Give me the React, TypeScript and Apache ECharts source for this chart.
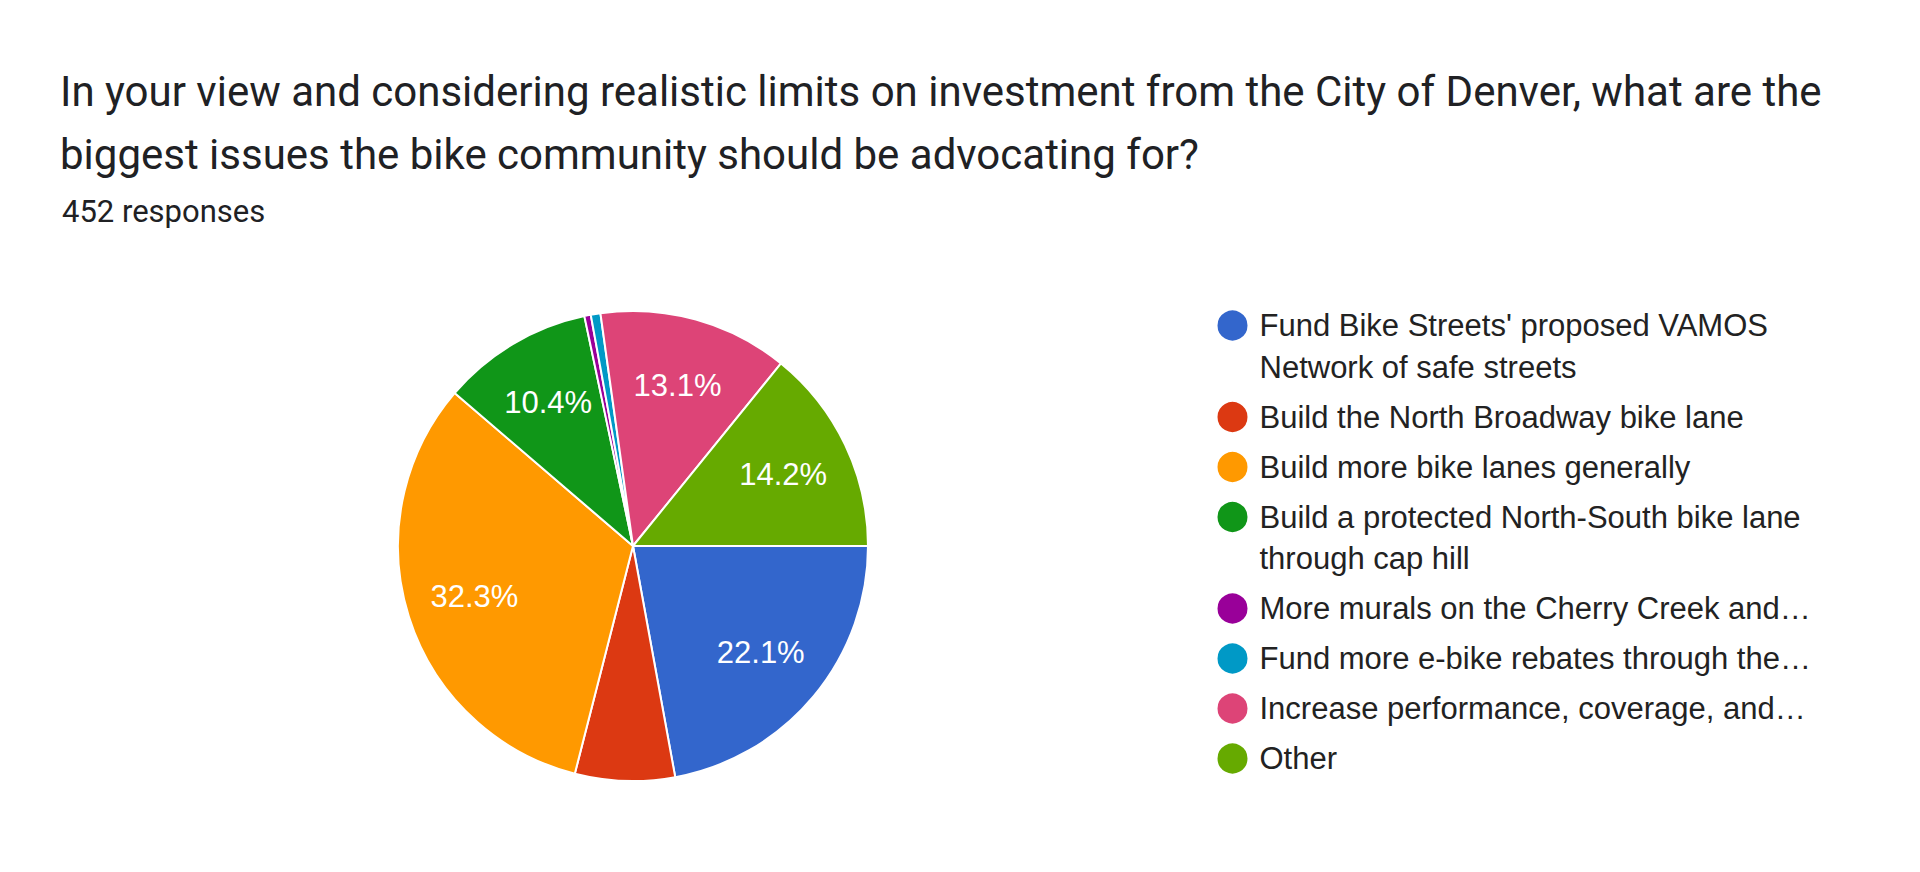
import React, { useEffect, useRef } from "react";
import * as echarts from "echarts";

const titleLines = [
  "In your view and considering realistic limits on investment from the City of Denver, what are the",
  "biggest issues the bike community should be advocating for?",
];
const responsesLabel = "452 responses";

const categories = [
  "Fund Bike Streets' proposed VAMOS Network of safe streets",
  "Build the North Broadway bike lane",
  "Build more bike lanes generally",
  "Build a protected North-South bike lane through cap hill",
  "More murals on the Cherry Creek and…",
  "Fund more e-bike rebates through the…",
  "Increase performance, coverage, and…",
  "Other",
];

const legendLines = [
  ["Fund Bike Streets' proposed VAMOS", "Network of safe streets"],
  ["Build the North Broadway bike lane"],
  ["Build more bike lanes generally"],
  ["Build a protected North-South bike lane", "through cap hill"],
  ["More murals on the Cherry Creek and…"],
  ["Fund more e-bike rebates through the…"],
  ["Increase performance, coverage, and…"],
  ["Other"],
];

const counts = [100, 31, 146, 47, 2, 3, 59, 64];

const colors = ["#3366cc", "#dc3912", "#ff9900", "#109618", "#990099", "#0099c6", "#dd4477", "#66aa00"];

const LABEL_MIN_PERCENT = 10;

export default function App() {
  const ref = useRef<HTMLDivElement>(null);

  useEffect(() => {
    document.body.style.margin = "0";
    document.body.style.overflow = "hidden";
    if (!ref.current) return;
    const chart = echarts.init(ref.current, undefined, { renderer: "svg" });

    const total = counts.reduce((a, b) => a + b, 0);
    const data = categories.map((name, i) => ({
      name,
      value: counts[i],
      itemStyle: { color: colors[i] },
    }));

    const legendFont = 31;
    const L = 41.5;
    const G = 8.5;
    const icon = 32;
    const legendLeft = 1215.5;
    let c = 325.5;
    // multi-line items: a leading empty line keeps the first text line level with the icon
    const legendText = (i: number) => {
      const lines = legendLines[i];
      return lines.length > 1 ? "\n" + lines.join("\n") : lines[0];
    };
    const legends = categories.map((name, i) => {
      const n = legendLines[i].length;
      const boxLines = n > 1 ? 2 * n - 1 : 1;
      const top = c - (boxLines * L) / 2;
      c += n * L + G;
      return {
        data: [name],
        left: legendLeft,
        top,
        orient: "vertical",
        padding: 0,
        itemWidth: icon,
        itemHeight: icon,
        icon: "circle",
        selectedMode: false,
        formatter: (nm: string) => legendText(categories.indexOf(nm)),
        textStyle: {
          fontFamily: "'Liberation Sans', Arial, sans-serif",
          fontSize: legendFont,
          lineHeight: L,
          color: "#222222",
          padding: [0, 0, 0, 6],
        },
      };
    });

    const center = [633, 546];
    const R = 235;

    chart.setOption({
      animation: false,
      backgroundColor: "#ffffff",
      title: [
        {
          text: titleLines.join("\n"),
          left: 60,
          top: 59.5,
          padding: 0,
          textStyle: {
            fontFamily: "Roboto, sans-serif",
            fontSize: 42,
            lineHeight: 63,
            fontWeight: "normal",
            color: "#202124",
          },
        },
        {
          text: responsesLabel,
          left: 62,
          top: 195.5,
          padding: 0,
          textStyle: {
            fontFamily: "Roboto, sans-serif",
            fontSize: 31,
            lineHeight: 31,
            fontWeight: "normal",
            color: "#202124",
          },
        },
      ],
      legend: legends,
      series: [
        {
          type: "pie",
          center,
          radius: [0, R],
          startAngle: 0,
          clockwise: true,
          avoidLabelOverlap: false,
          silent: true,
          label: { show: false },
          labelLine: { show: false },
          itemStyle: { borderColor: "#ffffff", borderWidth: 2 },
          emphasis: { disabled: true },
          data,
        },
        {
          type: "pie",
          center,
          radius: [R * 0.39, R],
          startAngle: 0,
          clockwise: true,
          avoidLabelOverlap: false,
          silent: true,
          itemStyle: { color: "rgba(0,0,0,0)", borderWidth: 0 },
          emphasis: { disabled: true },
          labelLine: { show: false },
          label: {
            show: true,
            position: "inside",
            color: "#ffffff",
            fontFamily: "'Liberation Sans', Arial, sans-serif",
            fontSize: 31,
            formatter: (p: any) => {
              const pct = (p.value / total) * 100;
              return pct >= LABEL_MIN_PERCENT ? pct.toFixed(1) + "%" : "";
            },
          },
          data: data.map((d) => ({ name: d.name, value: d.value, itemStyle: { color: "rgba(0,0,0,0)" } })),
        },
      ],
    });

    return () => chart.dispose();
  }, []);

  return (
    <div
      ref={ref}
      style={{ position: "absolute", left: 0, top: 0, width: 1920, height: 872 }}
    />
  );
}
